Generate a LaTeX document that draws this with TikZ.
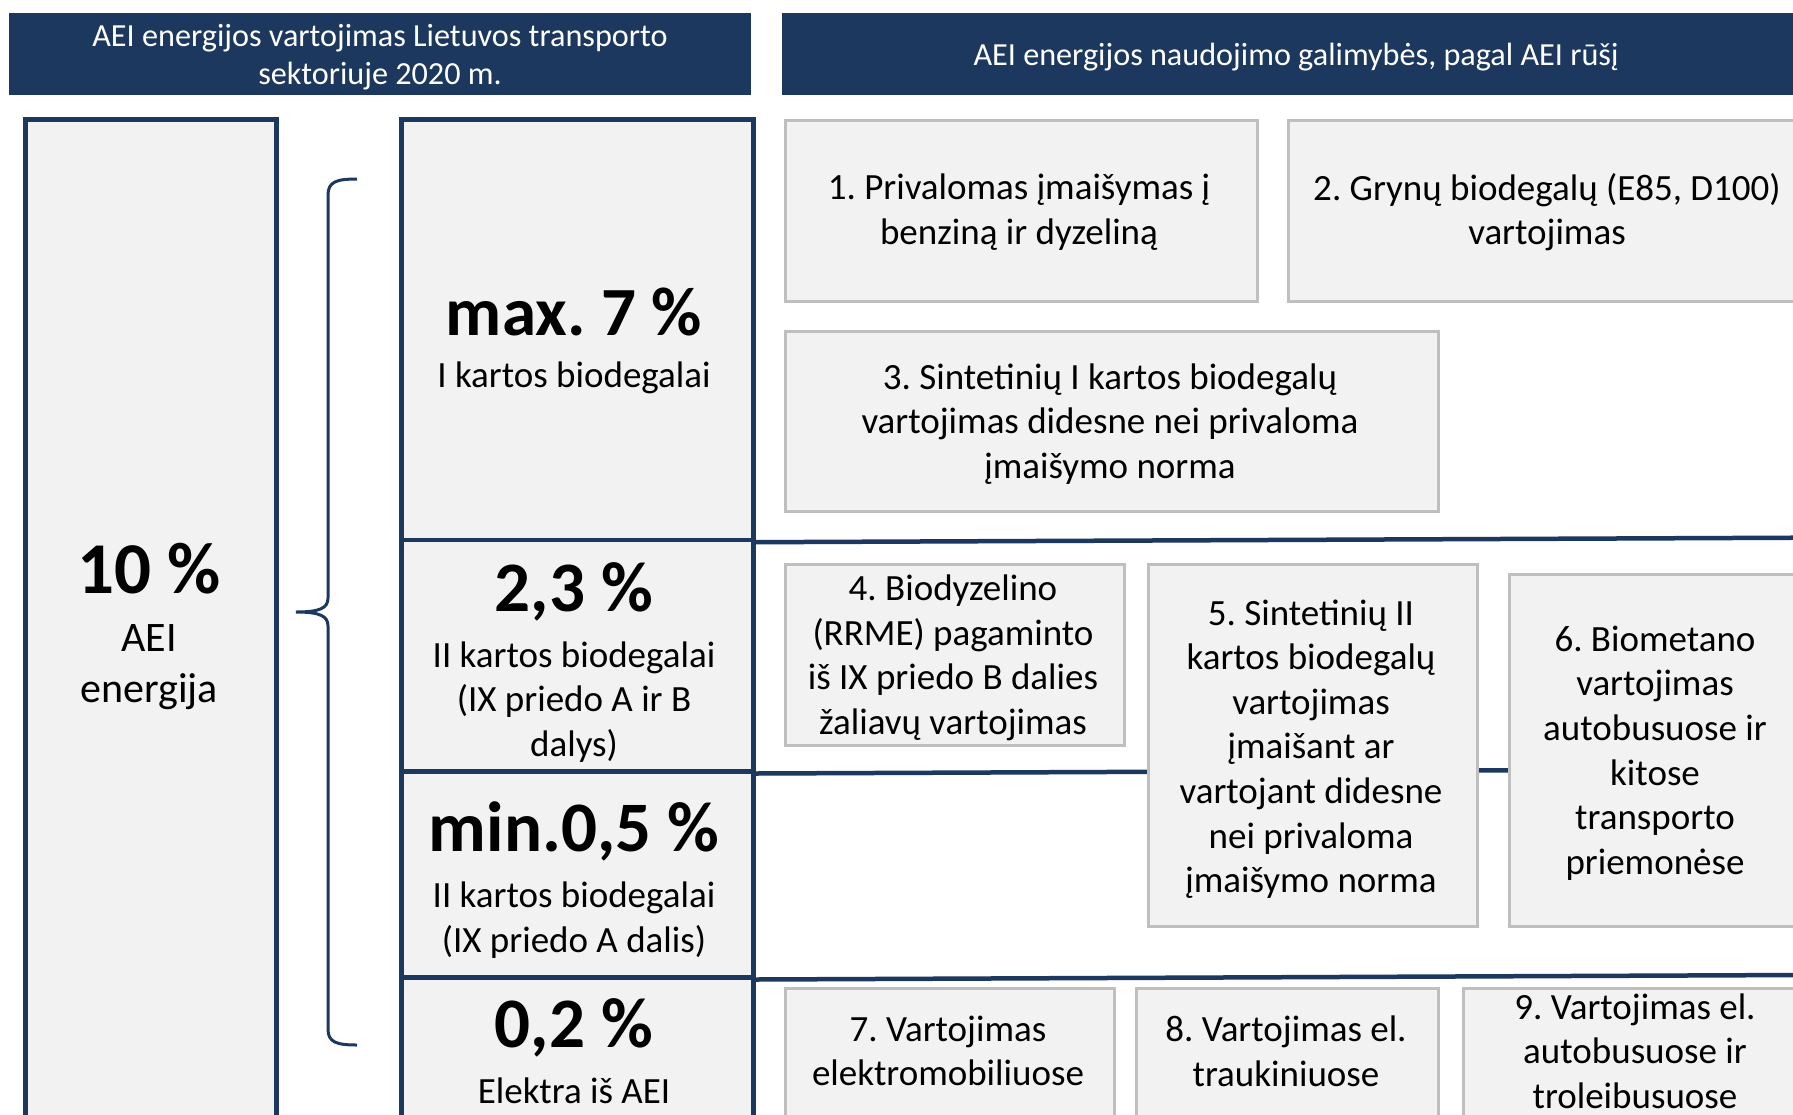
\documentclass[tikz,border=0pt]{standalone}
\usepackage{fontspec}
\setmainfont{Carlito}
\definecolor{navy}{RGB}{28,56,94}
\definecolor{boxgray}{RGB}{242,242,242}
\definecolor{edgegray}{RGB}{191,191,191}
\frenchspacing
\begin{document}
\begin{tikzpicture}[x=1pt,y=-1pt,
  hdr/.style={fill=navy, draw=none, rectangle, inner sep=0pt, outer sep=0pt, anchor=north west},
  nbox/.style={draw=navy, line width=4.5pt, fill=boxgray, rectangle, inner sep=0pt, anchor=north west},
  gbox/.style={draw=edgegray, line width=3pt, fill=boxgray, rectangle, inner sep=0pt, anchor=north west},
  txt/.style={inner sep=0pt, align=center, font=\fontsize{37}{44.6}\selectfont},
  htxt/.style={inner sep=0pt, align=center, text=white, font=\fontsize{32.2}{37.8}\selectfont},
  big/.style={inner sep=0pt, font=\bfseries\fontsize{71}{80}\selectfont},
  navyline/.style={draw=navy, line width=4.5pt},
]
\useasboundingbox (0,0) rectangle (1793,1114);
\fill[white] (0,0) rectangle (1793,1114);

% headers
\node[hdr, minimum width=742pt, minimum height=82pt] (h1) at (9,13) {};
\node[hdr, minimum width=1020pt, minimum height=82pt] (h2) at (782,13) {};
\node[htxt] (h1t) at (380,57) {AEI energijos vartojimas Lietuvos transporto\\sektoriuje 2020 m.};
\node[htxt] (h2t) at (1296,57) {AEI energijos naudojimo galimybės, pagal AEI rūšį};

% left box
\node[nbox, minimum width=251pt, minimum height=1030pt] (left) at (23,117) {};
\node[big, font=\bfseries\fontsize{73}{80}\selectfont] (p10) at (149,569) {10 \%};
\node[inner sep=0pt, align=center, font=\fontsize{42}{51.5}\selectfont] (aei) at (149,667) {AEI\\energija};

% brace
\coordinate (bt) at (357,179);
\coordinate (bm) at (296,612);
\coordinate (bb) at (357,1045);
\draw[navy, line width=3pt] (bt) .. controls (336,179) and (328,182) .. (328,195)
  -- (328,598) .. controls (328,608) and (320,612) .. (bm)
  .. controls (320,612) and (328,616) .. (328,626)
  -- (328,1029) .. controls (328,1042) and (336,1045) .. (bb);

% right-side divider lines
\coordinate (r1) at (1800,537.7);
\coordinate (r2) at (1800,769);
\coordinate (r3) at (1800,975);

% middle column
\node[nbox, minimum width=352pt, minimum height=420.7pt] (s1) at (399,117) {};
\node[nbox, minimum width=352pt, minimum height=231.3pt] (s2) at (399,537.7) {};
\node[nbox, minimum width=352pt, minimum height=206pt] (s3) at (399,769) {};
\node[nbox, minimum width=352pt, minimum height=180pt] (s4) at (399,975) {};

\draw[navyline] (s1.south east) -- (r1);
\draw[navyline] (s2.south east) -- (r2);
\draw[navyline] (s3.south east) -- (r3);

\node[big, font=\bfseries\fontsize{69}{80}\selectfont] (m7) at (574,312) {max. 7 \%};
\node[txt] (m7t) at (574,378) {I kartos biodegalai};
\node[big] (m23) at (574,592) {2,3 \%};
\node[txt] (m23t) at (574,702) {II kartos biodegalai\\(IX priedo A ir B\\dalys)};
\node[big] (m05) at (574,831) {min.0,5 \%};
\node[txt] (m05t) at (574,920) {II kartos biodegalai\\(IX priedo A dalis)};
\node[big] (m02) at (574,1028) {0,2 \%};
\node[txt] (m02t) at (574,1091) {Elektra iš AEI};

% right boxes
\node[gbox, minimum width=472pt, minimum height=181pt] (b1) at (783.5,118.5) {};
\node[gbox, minimum width=521.5pt, minimum height=181pt] (b2) at (1286.5,118.5) {};
\node[gbox, minimum width=653.5pt, minimum height=180pt] (b3) at (783.5,330) {};
\node[gbox, minimum width=339pt, minimum height=181pt] (b4) at (783.5,563) {};
\node[gbox, minimum width=329pt, minimum height=362pt] (b5) at (1146.5,563) {};
\node[gbox, minimum width=296pt, minimum height=352pt] (b6) at (1507.5,573) {};
\node[gbox, minimum width=329pt, minimum height=160pt] (b7) at (783.5,986.5) {};
\node[gbox, minimum width=302pt, minimum height=160pt] (b8) at (1135,986.5) {};
\node[gbox, minimum width=349pt, minimum height=160pt] (b9) at (1461.5,986.5) {};

\node[txt] (t1) at (1019,212) {1. Privalomas įmaišymas į\\benziną ir dyzeliną};
\node[txt] (t2) at (1547,212) {2. Grynų biodegalų (E85, D100)\\vartojimas};
\node[txt] (t3) at (1110,424) {3. Sintetinių I kartos biodegalų\\vartojimas didesne nei privaloma\\įmaišymo norma};
\node[txt] (t4) at (953,658) {4. Biodyzelino\\(RRME) pagaminto\\iš IX priedo B dalies\\žaliavų vartojimas};
\node[txt] (t5) at (1311,749) {5. Sintetinių II\\kartos biodegalų\\vartojimas\\įmaišant ar\\vartojant didesne\\nei privaloma\\įmaišymo norma};
\node[txt] (t6) at (1655,753) {6. Biometano\\vartojimas\\autobusuose ir\\kitose\\transporto\\priemonėse};
\node[txt] (t7) at (948,1051) {7. Vartojimas\\elektromobiliuose};
\node[txt] (t8) at (1286,1051) {8. Vartojimas el.\\traukiniuose};
\node[txt] (t9) at (1635,1051) {9. Vartojimas el.\\autobusuose ir\\troleibusuose};
\end{tikzpicture}
\end{document}
